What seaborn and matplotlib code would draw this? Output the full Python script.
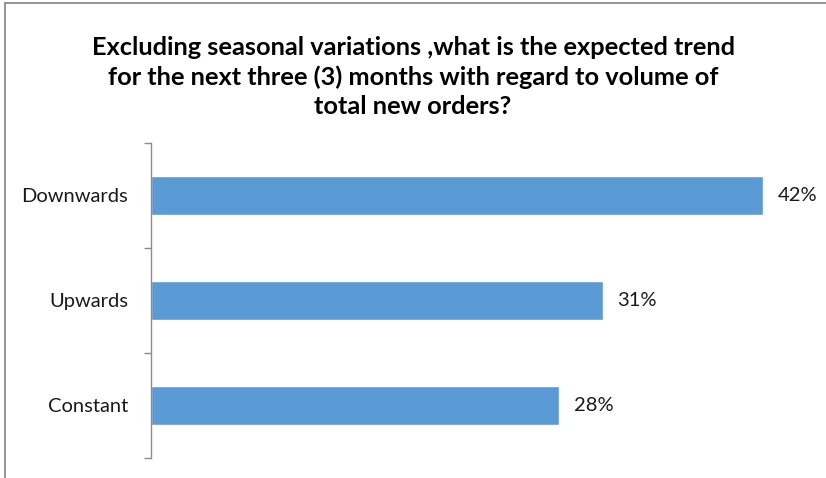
import matplotlib
matplotlib.use("Agg")
import matplotlib.pyplot as plt
from matplotlib.lines import Line2D
import seaborn as sns
import pandas as pd

categories = ["Downwards", "Upwards", "Constant"]
shares = [42, 31, 28]
value_labels = ["42%", "31%", "28%"]
title_text = ("Excluding seasonal variations ,what is the expected trend\n"
              "for the next three (3) months with regard to volume of\n"
              "total new orders?")

sns.set_theme(style="white")
plt.rcParams["font.family"] = ["Lato", "DejaVu Sans"]

df = pd.DataFrame({"trend": categories, "share": shares})

W, H = 826, 478
fig = plt.figure(figsize=(W / 100, H / 100), dpi=100)
ax = fig.add_axes([151 / W, 1 - 458 / H, (807 - 151) / W, (458 - 143) / H])

sns.barplot(data=df, x="share", y="trend", order=categories, orient="h",
            color="#5B9BD5", saturation=1, width=0.38, ax=ax)

ax.set_xlim(0, 45)
ax.set_ylim(2.5, -0.5)
ax.set_xlabel("")
ax.set_ylabel("")
ax.set_xticks([])

for s in ["top", "right", "bottom"]:
    ax.spines[s].set_visible(False)
ax.spines["left"].set_color("#8C8C8C")
ax.spines["left"].set_linewidth(1.0)

ax.set_yticks(range(len(categories)))
ax.set_yticklabels(categories, fontsize=14.5, color="#1A1A1A")
ax.set_yticks([-0.5, 0.5, 1.5, 2.5], minor=True)
ax.tick_params(axis="y", which="major", length=0, pad=16.5)
ax.tick_params(axis="y", which="minor", length=5, width=1.0,
               color="#8C8C8C", direction="out", left=True)

for i, (v, lab) in enumerate(zip(shares, value_labels)):
    ax.annotate(lab, xy=(v, i), xytext=(10.5, 0), textcoords="offset points",
                ha="left", va="center", fontsize=14.5, color="#1A1A1A")

fig.text(0.5, 1 - 77 / H, title_text, ha="center", va="center",
         fontsize=18.3, fontweight="bold", linespacing=1.32, color="#000000")

# chart frame (left and top edges)
frame = dict(color="#8C8C8C", linewidth=1.3)
fig.add_artist(Line2D([5 / W, 5 / W], [0, 1 - 3 / H], **frame))
fig.add_artist(Line2D([5 / W, 1], [1 - 3 / H, 1 - 3 / H], **frame))

fig.savefig("out.png", dpi=100)
